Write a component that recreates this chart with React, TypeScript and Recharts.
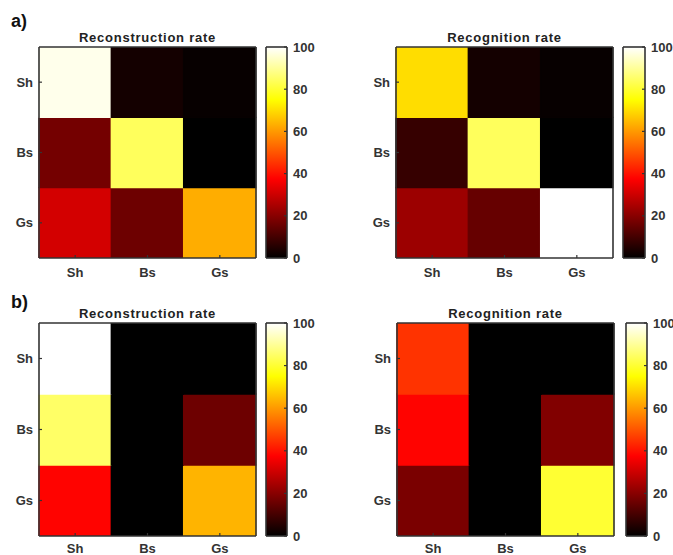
import React from "react";
import { BarChart, Bar, XAxis, YAxis, Cell } from "recharts";

// ---------- data ----------
const categories = ["Sh", "Bs", "Gs"]; // columns (left->right) and rows (top->bottom)
const colorbarTicks = [0, 20, 40, 60, 80, 100];

// rows: Sh, Bs, Gs (top to bottom); columns: Sh, Bs, Gs
const aReconstruction = [
  [98, 3, 1],
  [17, 84, 0],
  [31, 16, 63],
];
const aRecognition = [
  [70, 3, 1],
  [8, 84, 0],
  [23, 15, 100],
];
const bReconstruction = [
  [100, 0, 0],
  [85, 0, 16],
  [38, 0, 64],
];
const bRecognition = [
  [45, 0, 0],
  [38, 0, 19],
  [18, 0, 80],
];

// ---------- colormap (MATLAB "hot") ----------
function hot(v: number): string {
  const t = Math.max(0, Math.min(1, v / 100));
  const r = Math.min(1, t / 0.375);
  const g = Math.max(0, Math.min(1, (t - 0.375) / 0.375));
  const b = Math.max(0, Math.min(1, (t - 0.75) / 0.25));
  const h = (x: number) => Math.round(x * 255).toString(16).padStart(2, "0");
  return `#${h(r)}${h(g)}${h(b)}`;
}

const FONT = "'Liberation Sans', Arial, sans-serif";
const AXIS = "#333333";
const tickStyle = { fill: "#333", fontSize: 13, fontWeight: 700, fontFamily: FONT };
const lineStyle = { stroke: AXIS, strokeWidth: 1.6 };
const tickLineStyle = { stroke: AXIS, strokeWidth: 1.2 };
const invisible = { tick: false, tickLine: false, axisLine: false } as const;

type PanelCfg = {
  title: string;
  matrix: number[][];
  plotLeft: number;
  plotTop: number;
  plotRight: number;
  plotBottom: number;
  cbLeft: number;
  cbRight: number;
  xTickMargin: number;
  xH: number;
};

const abs = (left: number, top: number): React.CSSProperties => ({ position: "absolute", left, top });

function Heatmap({ cfg }: { cfg: PanelCfg }) {
  const yW = 40;
  const chartLeft = cfg.plotLeft - yW;
  const mTop = 17;
  const xH = cfg.xH;
  const width = cfg.plotRight - chartLeft + 2;
  const height = mTop + (cfg.plotBottom - cfg.plotTop) + xH;
  // stacked from bottom: Gs row (index 2), Bs (1), Sh (0)
  const rowOrder = [2, 1, 0];
  const data = categories.map((c) => {
    const d: Record<string, any> = { col: c };
    rowOrder.forEach((ri) => (d[`row${ri}`] = 1));
    return d;
  });
  const yTicks = [0.5, 1.5, 2.5];
  const yLabel = (v: number) => categories[2 - Math.floor(v)];
  const common = {
    width,
    height,
    data,
    margin: { top: mTop - 1, right: 1, left: 0, bottom: 0 },
    barCategoryGap: 0,
    barGap: 0,
  };
  return (
    <>
      <div
        style={{
          position: "absolute",
          left: cfg.plotLeft,
          width: cfg.plotRight - cfg.plotLeft,
          top: cfg.plotTop - 17,
          textAlign: "center",
          fontFamily: FONT,
          fontWeight: 700,
          fontSize: 13,
          color: "#222",
          letterSpacing: 0.75,
          whiteSpace: "nowrap",
        }}
      >
        {cfg.title}
      </div>
      {/* cells */}
      <div style={abs(chartLeft, cfg.plotTop - mTop)}>
        <BarChart {...common}>
          {rowOrder.map((ri) => (
            <Bar key={ri} dataKey={`row${ri}`} stackId="s" isAnimationActive={false}>
              {categories.map((c, ci) => (
                <Cell key={c} fill={hot(cfg.matrix[ri][ci])} stroke={hot(cfg.matrix[ri][ci])} strokeWidth={1.4} />
              ))}
            </Bar>
          ))}
          <XAxis dataKey="col" type="category" height={xH} {...invisible} />
          <XAxis xAxisId="top" dataKey="col" type="category" orientation="top" height={1} {...invisible} />
          <YAxis type="number" domain={[0, 3]} width={yW} allowDataOverflow {...invisible} />
          <YAxis yAxisId="right" type="number" orientation="right" domain={[0, 3]} width={1} allowDataOverflow {...invisible} />
        </BarChart>
      </div>
      {/* frame, ticks and labels on top */}
      <div style={abs(chartLeft, cfg.plotTop - mTop)}>
        <BarChart {...common}>
          <Bar dataKey="row0" fill="none" isAnimationActive={false} />
          <Bar xAxisId="top" yAxisId="right" dataKey="row0" fill="none" isAnimationActive={false} />
          <XAxis
            dataKey="col"
            type="category"
            height={xH}
            tickSize={-3}
            tickMargin={cfg.xTickMargin}
            tick={tickStyle}
            axisLine={lineStyle}
            tickLine={tickLineStyle}
            interval={0}
          />
          <XAxis
            xAxisId="top"
            dataKey="col"
            type="category"
            orientation="top"
            height={1}
            tickSize={-3}
            tick={false}
            axisLine={lineStyle}
            tickLine={tickLineStyle}
            interval={0}
          />
          <YAxis
            type="number"
            domain={[0, 3]}
            allowDataOverflow
            ticks={yTicks}
            width={yW}
            tickSize={-3}
            tickMargin={9}
            tickFormatter={yLabel}
            tick={tickStyle}
            axisLine={lineStyle}
            tickLine={tickLineStyle}
            interval={0}
          />
          <YAxis
            yAxisId="right"
            type="number"
            orientation="right"
            domain={[0, 3]}
            allowDataOverflow
            ticks={yTicks}
            width={1}
            tickSize={-3}
            tick={false}
            axisLine={lineStyle}
            tickLine={tickLineStyle}
            interval={0}
          />
        </BarChart>
      </div>
    </>
  );
}

function Colorbar({ cfg, id }: { cfg: PanelCfg; id: string }) {
  const labW = 34;
  const mTop = 8;
  const width = cfg.cbRight - cfg.cbLeft + labW + 1;
  const height = cfg.plotBottom - cfg.plotTop + 2 * mTop;
  const data = [{ name: "cb", v: 100 }];
  const gid = `hot-${id}`;
  const common = {
    width,
    height,
    data,
    margin: { top: mTop - 1, right: 0, left: 0, bottom: mTop - 1 },
    barCategoryGap: 0,
  };
  return (
    <>
      <div style={abs(cfg.cbLeft - 1, cfg.plotTop - mTop)}>
        <BarChart {...common}>
          <defs>
            <linearGradient id={gid} x1="0" y1="1" x2="0" y2="0">
              <stop offset="0" stopColor="#000000" />
              <stop offset="0.375" stopColor="#ff0000" />
              <stop offset="0.75" stopColor="#ffff00" />
              <stop offset="1" stopColor="#ffffff" />
            </linearGradient>
          </defs>
          <Bar dataKey="v" fill={`url(#${gid})`} isAnimationActive={false} />
          <XAxis dataKey="name" height={1} {...invisible} />
          <XAxis xAxisId="top" dataKey="name" orientation="top" height={1} {...invisible} />
          <YAxis type="number" domain={[0, 100]} allowDataOverflow width={1} {...invisible} />
          <YAxis yAxisId="right" orientation="right" type="number" domain={[0, 100]} allowDataOverflow width={labW} {...invisible} />
        </BarChart>
      </div>
      <div style={abs(cfg.cbLeft - 1, cfg.plotTop - mTop)}>
        <BarChart {...common}>
          <Bar dataKey="v" fill="none" isAnimationActive={false} />
          <Bar xAxisId="top" yAxisId="right" dataKey="v" fill="none" isAnimationActive={false} />
          <XAxis dataKey="name" height={1} tick={false} tickLine={false} axisLine={lineStyle} />
          <XAxis xAxisId="top" dataKey="name" orientation="top" height={1} tick={false} tickLine={false} axisLine={lineStyle} />
          <YAxis type="number" domain={[0, 100]} allowDataOverflow width={1} tick={false} tickLine={false} axisLine={lineStyle} />
          <YAxis
            yAxisId="right"
            orientation="right"
            type="number"
            domain={[0, 100]}
            allowDataOverflow
            ticks={colorbarTicks}
            width={labW}
            tickSize={-3}
            tickMargin={9}
            tick={tickStyle}
            axisLine={lineStyle}
            tickLine={tickLineStyle}
            interval={0}
          />
        </BarChart>
      </div>
    </>
  );
}

const panels: PanelCfg[] = [
  { title: "Reconstruction rate", matrix: aReconstruction, plotLeft: 39, plotTop: 47, plotRight: 256, plotBottom: 258, cbLeft: 266, cbRight: 287, xTickMargin: 13, xH: 26 },
  { title: "Recognition rate", matrix: aRecognition, plotLeft: 396, plotTop: 47, plotRight: 613, plotBottom: 258, cbLeft: 623, cbRight: 645, xTickMargin: 13, xH: 26 },
  { title: "Reconstruction rate", matrix: bReconstruction, plotLeft: 39, plotTop: 323, plotRight: 256, plotBottom: 536, cbLeft: 266, cbRight: 287, xTickMargin: 11, xH: 19 },
  { title: "Recognition rate", matrix: bRecognition, plotLeft: 397, plotTop: 323, plotRight: 614, plotBottom: 536, cbLeft: 626, cbRight: 647, xTickMargin: 11, xH: 19 },
];

export default function App() {
  return (
    <div style={{ position: "absolute", left: 0, top: 0, width: 673, height: 555, background: "#fff", overflow: "hidden" }}>
      <div style={{ position: "absolute", left: 11, top: 11, fontFamily: FONT, fontWeight: 700, fontSize: 18, color: "#111" }}>a)</div>
      <div style={{ position: "absolute", left: 11, top: 292, fontFamily: FONT, fontWeight: 700, fontSize: 18, color: "#111" }}>b)</div>
      {panels.map((p, i) => (
        <React.Fragment key={i}>
          <Heatmap cfg={p} />
          <Colorbar cfg={p} id={`p${i}`} />
        </React.Fragment>
      ))}
    </div>
  );
}
